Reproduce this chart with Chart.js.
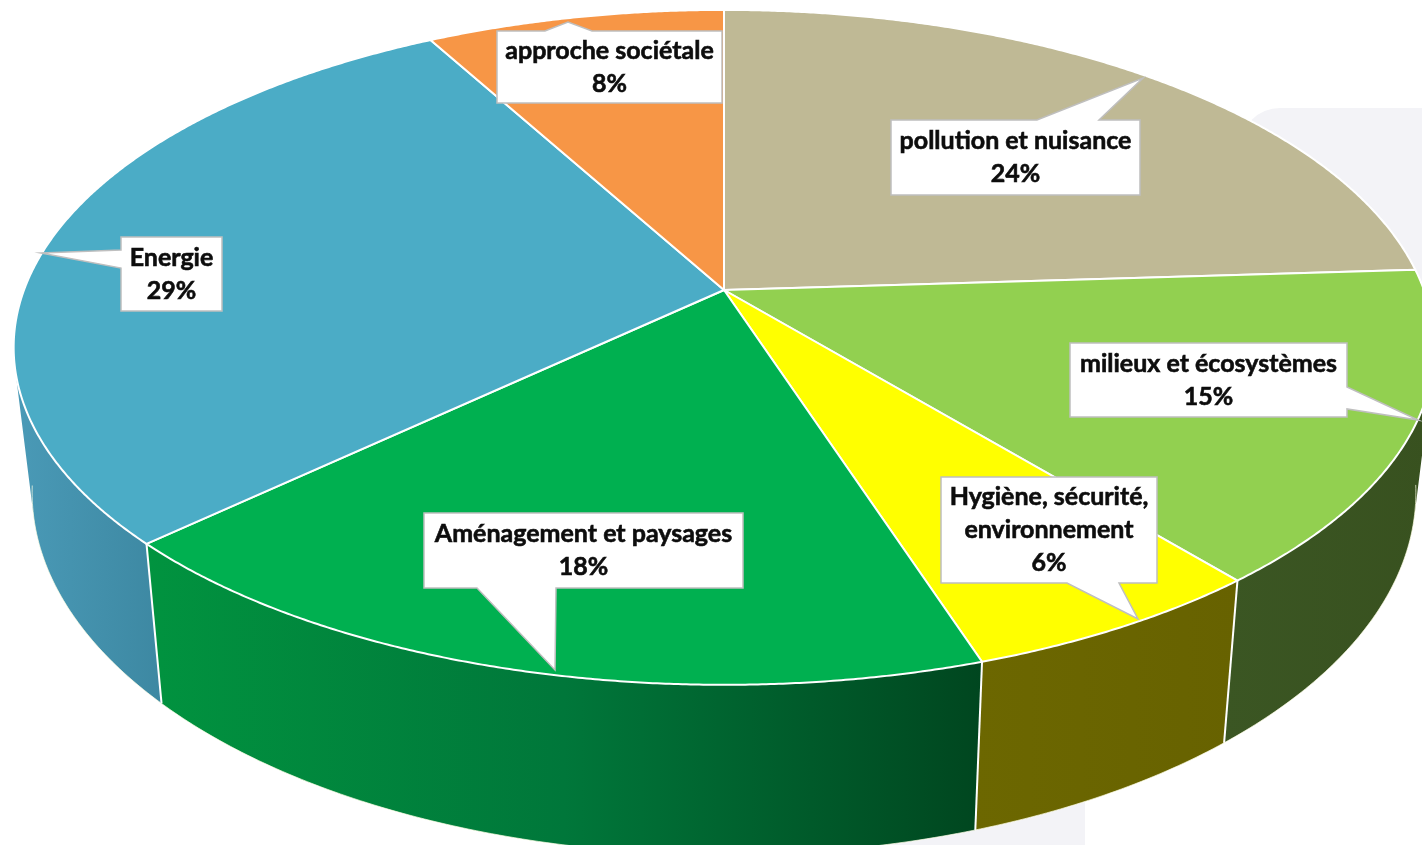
<!DOCTYPE html>
<html lang="fr">
<head>
<meta charset="utf-8">
<title>Répartition des thèmes</title>
<script src="https://cdn.jsdelivr.net/npm/chart.js@4.4.1/dist/chart.umd.min.js"></script>
<style>
  html, body { margin: 0; padding: 0; background: #fff; }
  #wrap { width: 1422px; height: 845px; position: relative; overflow: hidden; }
</style>
</head>
<body>
<div id="wrap"><canvas id="chart"></canvas></div>
<script>
// Données (sens horaire depuis midi)
const categories = [
  'pollution et nuisance',
  'milieux et écosystèmes',
  'Hygiène, sécurité, environnement',
  'Aménagement et paysages',
  'Energie',
  'approche sociétale'
];
const shares = [24, 15, 6, 18, 29, 8];

// Couleurs : face du dessus et flanc (dégradé gauche -> droite)
const topColors = ['#BFB995', '#92D050', '#FFFF00', '#00B050', '#4BACC6', '#F79646'];
const sideColors = [
  ['#8F8A6E', '#8F8A6E'],
  ['#3B5623', '#38511F'],
  ['#6C6700', '#676200'],
  ['#01933F', '#00773A', '#00461F'],
  ['#4A9AB7', '#3D88A2'],
  ['#B86F33', '#B86F33']
];

// Vue en perspective du disque
const VIEW = { cx: 724, cy: 290, rx: 700, ry: 327.7, persp: 0.17, depth: 141, shrink: 0.974 };

// Bulles de légende (même ordre que les catégories)
const callouts = [
  { box: [891, 120, 249, 75],  edge: 'top',    base: [1037, 1099], tip: [1143, 78] },
  { box: [1070, 343, 277, 74], edge: 'right',  base: [387, 409],   tip: [1418, 420] },
  { box: [941, 477, 216, 106], edge: 'bottom', base: [1067, 1119], tip: [1138, 619] },
  { box: [424, 513, 319, 75],  edge: 'bottom', base: [477, 556],   tip: [555, 670] },
  { box: [121, 237, 101, 74],  edge: 'left',   base: [250, 268],   tip: [41, 253] },
  { box: [497, 31, 225, 72],   edge: 'top',    base: [545, 592],   tip: [568, 22] }
];

const FONT = 'bold 25px Lato';
const LINE_H = 33;

function projeter(theta, r, z) {
  const u = r * Math.cos(theta), v = r * Math.sin(theta);
  const s = 1 / (1 - VIEW.persp * v);
  const k = z ? VIEW.shrink : 1;
  return [VIEW.cx + VIEW.rx * u * s * k, VIEW.cy + VIEW.ry * v * s + z * VIEW.depth * s];
}

function aire(q) {
  let a = 0;
  for (let i = 0; i < q.length; i++) {
    const p = q[i], n = q[(i + 1) % q.length];
    a += p[0] * n[1] - n[0] * p[1];
  }
  return a;
}

// flanc d'une part : union de petits quadrilatères orientés dans le même sens
function dessinerFlanc(ctx, a, b, couleurs) {
  const lo = Math.max(a, -0.45), hi = Math.min(b, Math.PI + 0.45);
  if (hi <= lo) return;
  const n = Math.max(2, Math.ceil((hi - lo) / 0.01));
  let minX = Infinity, maxX = -Infinity;
  ctx.beginPath();
  for (let i = 0; i < n; i++) {
    const t0 = lo + (hi - lo) * i / n, t1 = lo + (hi - lo) * (i + 1) / n;
    let q = [projeter(t0, 1, 0), projeter(t1, 1, 0), projeter(t1, 1, 1), projeter(t0, 1, 1)];
    if (aire(q) < 0) q.reverse();
    ctx.moveTo(q[0][0], q[0][1]);
    for (let j = 1; j < 4; j++) ctx.lineTo(q[j][0], q[j][1]);
    ctx.closePath();
    q.forEach(p => { minX = Math.min(minX, p[0]); maxX = Math.max(maxX, p[0]); });
  }
  const g = ctx.createLinearGradient(minX, 0, maxX, 0);
  couleurs.forEach((c, i) => g.addColorStop(i / (couleurs.length - 1), c));
  ctx.fillStyle = g;
  ctx.fill('nonzero');
}

function dessinerDessus(ctx, a, b, couleur) {
  const c = projeter(0, 0, 0);
  const n = Math.max(2, Math.ceil((b - a) / 0.005));
  ctx.beginPath();
  ctx.moveTo(c[0], c[1]);
  for (let i = 0; i <= n; i++) {
    const p = projeter(a + (b - a) * i / n, 1, 0);
    ctx.lineTo(p[0], p[1]);
  }
  ctx.closePath();
  ctx.fillStyle = couleur;
  ctx.fill();
  ctx.lineJoin = 'round';
  ctx.strokeStyle = '#ffffff';
  ctx.lineWidth = 2;
  ctx.stroke();
}

function couperLignes(ctx, texte, largeur) {
  const mots = texte.split(' ');
  const lignes = [];
  let cur = '';
  mots.forEach(m => {
    const essai = cur ? cur + ' ' + m : m;
    if (cur && ctx.measureText(essai).width > largeur) { lignes.push(cur); cur = m; }
    else cur = essai;
  });
  if (cur) lignes.push(cur);
  return lignes;
}

function dessinerBulle(ctx, c, lignes) {
  const [x, y, w, h] = c.box;
  const [a, b] = c.base;
  const pts = [[x, y]];
  if (c.edge === 'top') pts.push([a, y], c.tip, [b, y]);
  pts.push([x + w, y]);
  if (c.edge === 'right') pts.push([x + w, a], c.tip, [x + w, b]);
  pts.push([x + w, y + h]);
  if (c.edge === 'bottom') pts.push([b, y + h], c.tip, [a, y + h]);
  pts.push([x, y + h]);
  if (c.edge === 'left') pts.push([x, b], c.tip, [x, a]);

  ctx.beginPath();
  pts.forEach((p, i) => i ? ctx.lineTo(p[0], p[1]) : ctx.moveTo(p[0], p[1]));
  ctx.closePath();
  ctx.fillStyle = '#ffffff';
  ctx.fill();
  ctx.strokeStyle = '#BFBFBF';
  ctx.lineWidth = 1.5;
  ctx.lineJoin = 'miter';
  ctx.stroke();

  // texte un peu épaissi
  ctx.fillStyle = '#0D0D0D';
  ctx.strokeStyle = '#0D0D0D';
  ctx.lineWidth = 0.6;
  ctx.textAlign = 'center';
  ctx.textBaseline = 'middle';
  const y0 = y + h / 2 - (lignes.length - 1) * LINE_H / 2;
  lignes.forEach((l, i) => {
    ctx.fillText(l, x + w / 2, y0 + i * LINE_H);
    ctx.strokeText(l, x + w / 2, y0 + i * LINE_H);
  });
}

// fond : deux aplats gris clair derrière le disque
const fond = {
  id: 'fond',
  beforeDraw(chart) {
    const ctx = chart.ctx;
    ctx.save();
    ctx.fillStyle = '#ffffff';
    ctx.fillRect(0, 0, chart.width, chart.height);
    ctx.fillStyle = '#F3F3F7';
    ctx.beginPath();
    ctx.roundRect(1240, 108, 400, 320, [40, 0, 0, 0]);
    ctx.fill();
    ctx.fillRect(700, 800, 385, 60);
    ctx.restore();
  }
};

// camembert 3D dessiné à partir des angles calculés par Chart.js
const camembert3d = {
  id: 'camembert3d',
  beforeDatasetsDraw(chart) {
    const ctx = chart.ctx;
    const arcs = chart.getDatasetMeta(0).data;
    ctx.save();

    const ordre = arcs.map((arc, i) => i).sort((i, j) => {
      const mi = Math.sin((arcs[i].startAngle + arcs[i].endAngle) / 2);
      const mj = Math.sin((arcs[j].startAngle + arcs[j].endAngle) / 2);
      return mi - mj;
    });
    ordre.forEach(i => dessinerFlanc(ctx, arcs[i].startAngle, arcs[i].endAngle, sideColors[i]));

    // arêtes verticales entre les parts
    ctx.strokeStyle = '#ffffff';
    ctx.lineWidth = 2;
    arcs.forEach(arc => {
      const t = arc.startAngle;
      if (Math.sin(t) > 0.1) {
        const p = projeter(t, 1, 0), q = projeter(t, 1, 1);
        ctx.beginPath();
        ctx.moveTo(p[0], p[1]);
        ctx.lineTo(q[0], q[1]);
        ctx.stroke();
      }
    });

    // liseré du bord inférieur
    ctx.strokeStyle = 'rgba(255,255,230,0.7)';
    ctx.lineWidth = 1;
    ctx.beginPath();
    for (let t = 0.15; t <= Math.PI - 0.15; t += 0.01) {
      const p = projeter(t, 1, 1);
      t === 0.15 ? ctx.moveTo(p[0], p[1]) : ctx.lineTo(p[0], p[1]);
    }
    ctx.stroke();

    arcs.forEach((arc, i) => dessinerDessus(ctx, arc.startAngle, arc.endAngle, topColors[i]));
    ctx.restore();
    return false;
  },
  afterDraw(chart) {
    const ctx = chart.ctx;
    ctx.save();
    ctx.font = FONT;
    callouts.forEach((c, i) => {
      const lignes = couperLignes(ctx, categories[i], c.box[2] - 10);
      lignes.push(shares[i] + '%');
      dessinerBulle(ctx, c, lignes);
    });
    ctx.restore();
  }
};

new Chart(document.getElementById('chart'), {
  type: 'pie',
  data: {
    labels: categories,
    datasets: [{ data: shares, backgroundColor: topColors, borderWidth: 0 }]
  },
  options: {
    responsive: true,
    maintainAspectRatio: false,
    animation: false,
    events: [],
    plugins: { legend: { display: false }, tooltip: { enabled: false } }
  },
  plugins: [fond, camembert3d]
});
</script>
</body>
</html>
